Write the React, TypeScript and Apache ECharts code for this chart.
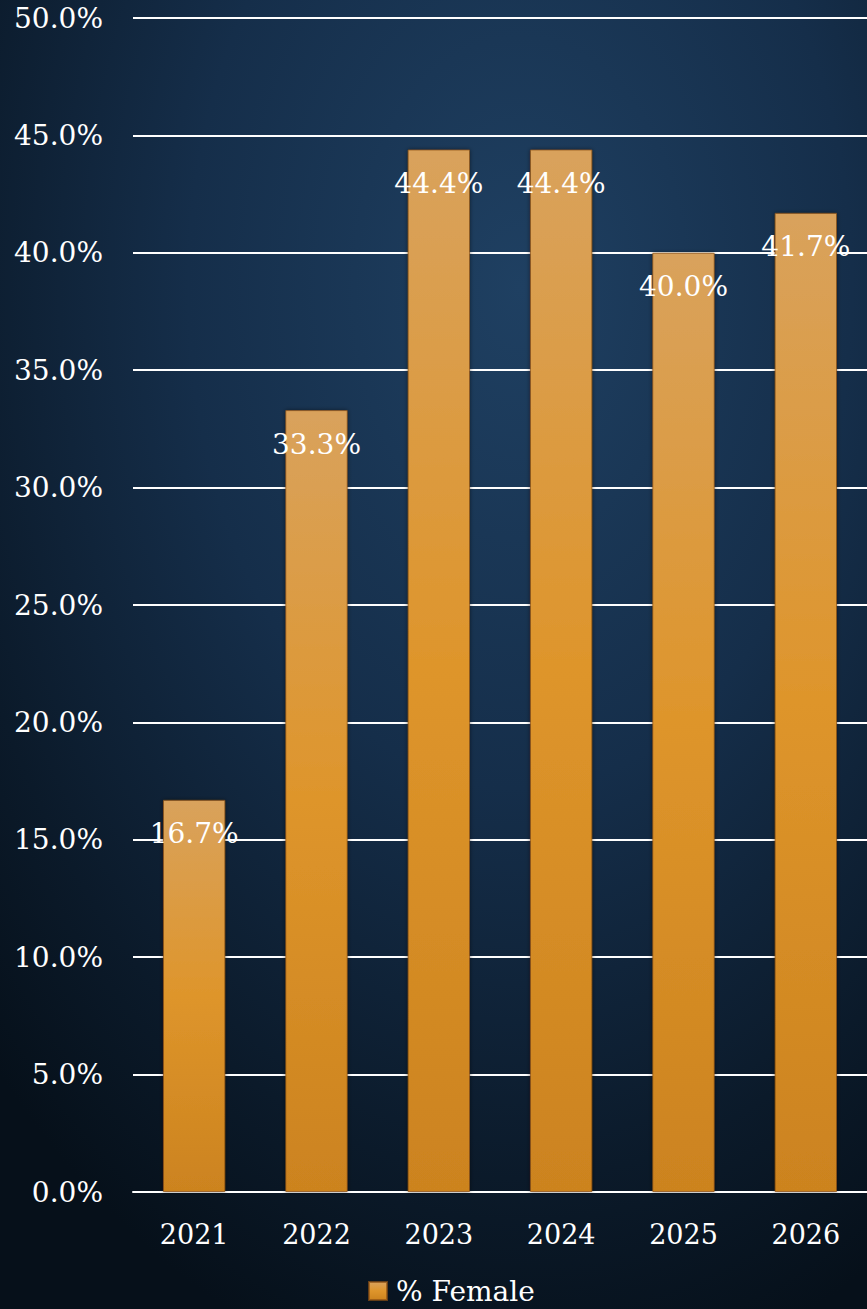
import React, { useEffect, useRef } from "react";
import * as echarts from "echarts";

const categories = ["2021", "2022", "2023", "2024", "2025", "2026"];
const femaleShare = [16.7, 33.3, 44.4, 44.4, 40.0, 41.7];
const seriesName = "% Female";

export default function App() {
  const ref = useRef<HTMLDivElement>(null);
  useEffect(() => {
    document.body.style.margin = "0";
    const chart = echarts.init(ref.current!, null, { renderer: "svg" });
    const font = "'DejaVu Serif', 'Liberation Serif', serif";
    chart.setOption({
      animation: false,
      backgroundColor: {
        type: "radial",
        x: 0.6,
        y: 0.22,
        r: 0.85,
        colorStops: [
          { offset: 0, color: "#1f4062" },
          { offset: 0.45, color: "#152e4a" },
          { offset: 0.8, color: "#0b1a2a" },
          { offset: 1, color: "#06101a" },
        ],
      },
      grid: { left: 133, width: 737, top: 18, bottom: 117 },
      legend: {
        data: [seriesName],
        left: 368,
        top: 1276,
        icon: "rect",
        itemWidth: 18,
        itemHeight: 18,
        itemGap: 8,
        padding: 0,
        textStyle: { color: "#ffffff", fontSize: 28, fontFamily: font, lineHeight: 30, padding: [0, 0, 0, 4] },
      },
      xAxis: {
        type: "category",
        data: categories,
        axisLine: { lineStyle: { color: "#ffffff", width: 2 } },
        axisTick: { show: false },
        axisLabel: { color: "#ffffff", fontSize: 27, fontFamily: font, margin: 29 },
      },
      yAxis: {
        type: "value",
        min: 0,
        max: 50,
        interval: 5,
        axisLine: { show: false },
        axisTick: { show: false },
        splitLine: { lineStyle: { color: "#ffffff", width: 2 } },
        axisLabel: {
          color: "#ffffff",
          fontSize: 28,
          fontFamily: font,
          margin: 30,
          formatter: (v: number) => v.toFixed(1) + "%",
        },
      },
      series: [
        {
          name: seriesName,
          type: "bar",
          data: femaleShare,
          barWidth: "51%",
          itemStyle: {
            color: {
              type: "linear",
              x: 0,
              y: 0,
              x2: 0,
              y2: 1,
              colorStops: [
                { offset: 0, color: "#d9a25c" },
                { offset: 0.5, color: "#de952b" },
                { offset: 1, color: "#cc831f" },
              ],
            },
            borderColor: "rgba(140,80,20,0.7)",
            borderWidth: 1,
            shadowColor: "rgba(0,0,0,0.5)",
            shadowBlur: 4,
          },
          label: {
            show: true,
            position: "insideTop",
            distance: 20,
            color: "#ffffff",
            fontSize: 28,
            fontFamily: font,
            formatter: (p: any) => p.value.toFixed(1) + "%",
          },
        },
      ],
    });
    return () => chart.dispose();
  }, []);
  return (
    <div
      ref={ref}
      style={{ position: "absolute", left: 0, top: 0, width: 867, height: 1309 }}
    />
  );
}
